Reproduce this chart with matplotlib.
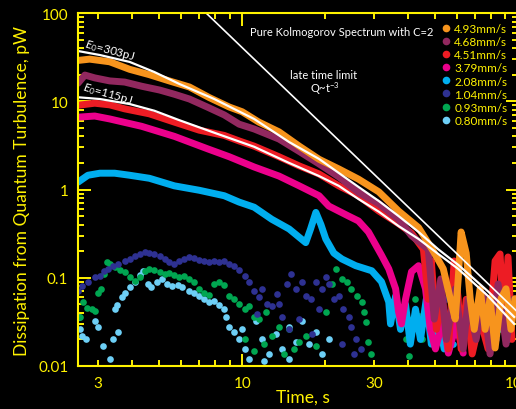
import matplotlib
matplotlib.use('Agg')
import matplotlib.pyplot as plt
from matplotlib.lines import Line2D
from matplotlib.ticker import FixedLocator, LogLocator, FuncFormatter, NullFormatter

plt.rcParams['font.family'] = ['Lato', 'DejaVu Sans']
plt.rcParams['mathtext.fontset'] = 'custom'
plt.rcParams['mathtext.rm'] = 'Lato'
plt.rcParams['mathtext.it'] = 'Lato:italic'

YELLOW = '#fff200'

# ---- data (time in s, dissipation in pW) ----
orange_t = [2.54, 2.80, 3.31, 3.91, 4.61, 5.44, 6.44, 7.60, 8.98, 10.0, 11.5, 13.6, 16.1, 19.0,
            22.4, 26.4, 31.3, 36.9, 43.6, 49.3, 53.6, 56.8, 59.2, 60.7, 62.2, 64.9, 67.1, 69.4,
            72.9, 76.0, 79.2, 82.6, 86.8, 90.5, 94.3, 97.5]
orange_q = [29, 30, 28, 23, 20, 17, 14.5, 11, 8.6, 7.6, 5.8, 4.5, 3.1, 2.2,
            1.71, 1.31, 0.94, 0.57, 0.37, 0.20, 0.126, 0.058, 0.034, 0.097, 0.33, 0.19, 0.058, 0.026,
            0.075, 0.026, 0.058, 0.016, 0.058, 0.075, 0.026, 0.058]

purple_t = [2.54, 2.69, 2.92, 3.31, 3.75, 4.32, 5.02, 5.68, 6.44, 7.47, 8.61, 9.75, 11.05, 13.6,
            16.1, 19.0, 22.4, 26.4, 31.3, 36.9, 41.1, 47.3, 49.7, 52.5, 55.0, 59.2, 63.3, 66.0,
            70.5, 74.7, 79.2, 84.7, 90.5, 95.9]
purple_q = [16, 19.8, 18.4, 17, 16.5, 14.8, 13.4, 12, 10.6, 8.6, 7.0, 5.5, 4.85, 3.73,
            2.7, 1.95, 1.39, 0.93, 0.69, 0.46, 0.30, 0.21, 0.034, 0.097, 0.02, 0.075, 0.0156, 0.057,
            0.02, 0.065, 0.0137, 0.085, 0.0177, 0.057]

red_t = [2.54, 2.92, 3.31, 3.75, 4.61, 5.68, 6.99, 8.61, 9.75, 11.05, 13.6, 16.1, 19.0, 22.4,
         26.4, 31.3, 36.9, 41.1, 45.4, 47.3, 48.5, 50.6, 53.2, 55.9, 58.7, 60.7, 62.2, 64.9,
         68.2, 72.9, 77.9, 82.6, 86.1, 89.0, 92.0, 95.1]
red_q = [9.0, 9.5, 9.1, 8.2, 7.2, 5.8, 4.7, 4.1, 3.55, 3.1, 2.35, 1.85, 1.5, 1.1,
         0.85, 0.57, 0.41, 0.32, 0.21, 0.057, 0.155, 0.026, 0.057, 0.0156, 0.155, 0.057, 0.0156, 0.057,
         0.0137, 0.034, 0.0156, 0.155, 0.186, 0.026, 0.172, 0.020]

pink_t = [2.54, 2.92, 3.31, 4.32, 5.68, 7.47, 8.98, 11.05, 13.6, 16.1, 19.0, 20.6, 24.3, 26.4,
          28.7, 32.0, 34.0, 36.0, 36.9, 37.8, 39.1, 41.1, 43.6, 46.2, 48.1, 50.2, 53.6, 55.9,
          59.7, 63.3]
pink_q = [6.6, 6.8, 6.3, 5.2, 4.0, 2.9, 2.35, 1.8, 1.42, 1.1, 0.85, 0.65, 0.5, 0.44,
          0.33, 0.18, 0.126, 0.075, 0.041, 0.03, 0.057, 0.117, 0.137, 0.075, 0.026, 0.0156, 0.034, 0.014,
          0.03, 0.014]

sky_t = [2.54, 2.76, 3.05, 3.45, 3.91, 4.61, 5.68, 6.99, 8.61, 9.75, 11.05, 12.8, 14.8, 17.0,
         17.7, 18.5, 19.3, 20.1, 21.5, 23.0, 25.8, 29.5, 32.0, 34.0, 34.5, 36.0, 37.5, 39.1,
         40.7, 42.5, 44.3, 46.5, 48.5, 51.4, 54.0]
sky_q = [1.21, 1.45, 1.53, 1.53, 1.45, 1.34, 1.1, 0.98, 0.85, 0.72, 0.63, 0.46, 0.357, 0.25,
         0.357, 0.55, 0.4, 0.275, 0.19, 0.163, 0.137, 0.12, 0.09, 0.053, 0.030, 0.062, 0.026, 0.05,
         0.0177, 0.044, 0.02, 0.057, 0.0177, 0.034, 0.0156]
sky_dots_t = [58.3, 63.3, 86.8, 92.0]
sky_dots_q = [0.0177, 0.026, 0.026, 0.02]

navy_t = [2.54, 2.62, 2.76, 2.92, 3.05, 3.15, 3.26, 3.39, 3.54, 3.75, 3.91, 4.08, 4.25, 4.43,
          4.61, 4.81, 5.02, 5.23, 5.44, 5.68, 5.92, 6.17, 6.44, 6.71, 6.99, 7.29, 7.60, 7.92,
          8.26, 8.61, 8.98, 9.36, 9.75, 10.2, 10.6, 11.05, 11.5, 11.8, 12.3, 12.8, 13.4, 13.9,
          14.5, 15.0, 15.7, 16.5, 17.0, 17.7, 18.5, 19.4, 20.1, 20.6, 21.5, 22.4, 23.3, 24.3,
          24.9, 25.8, 26.9, 25.4, 23.0, 11.3, 13.6, 16.1, 19.0, 14.8, 17.9,
          48.9, 55.0, 63.8, 83.3, 89.8]
navy_q = [0.070, 0.081, 0.090, 0.102, 0.105, 0.119, 0.126, 0.136, 0.143, 0.155, 0.163, 0.176, 0.186, 0.196,
          0.191, 0.186, 0.176, 0.163, 0.151, 0.143, 0.155, 0.163, 0.172, 0.168, 0.159, 0.155, 0.151, 0.155,
          0.151, 0.155, 0.143, 0.136, 0.122, 0.105, 0.090, 0.070, 0.060, 0.075, 0.050, 0.048, 0.065, 0.036,
          0.085, 0.110, 0.075, 0.090, 0.062, 0.057, 0.090, 0.075, 0.102, 0.085, 0.057, 0.062, 0.044, 0.036,
          0.0277, 0.020, 0.0156, 0.0137, 0.0177, 0.039, 0.050, 0.034, 0.044, 0.026, 0.023,
          0.026, 0.057, 0.034, 0.020, 0.044]

green_t = [2.58, 2.65, 2.73, 2.85, 2.92, 3.00, 3.07, 3.15, 3.23, 3.31, 3.45, 3.60, 3.75, 3.91,
           4.08, 4.25, 4.43, 4.61, 4.81, 5.02, 5.23, 5.44, 5.68, 5.92, 6.17, 6.44, 6.71, 6.99,
           7.29, 7.60, 7.92, 8.26, 8.61, 8.98, 9.36, 9.75, 10.2, 10.6, 11.05, 11.5, 12.2, 12.8,
           13.6, 14.8, 16.1, 17.0, 18.5, 20.1, 21.1, 21.8, 23.0, 23.9, 24.9, 26.0, 27.1, 27.6,
           28.0, 28.7, 29.2, 40.1, 41.4, 42.5, 43.6, 44.7, 39.4,
           10.2, 11.05, 12.0, 14.2, 15.4]
green_q = [0.036, 0.053, 0.046, 0.044, 0.042, 0.068, 0.075, 0.110, 0.151, 0.143, 0.132, 0.122, 0.116, 0.102,
           0.093, 0.102, 0.119, 0.126, 0.122, 0.116, 0.110, 0.113, 0.107, 0.102, 0.105, 0.097, 0.090, 0.075,
           0.067, 0.064, 0.085, 0.090, 0.083, 0.062, 0.057, 0.050, 0.044, 0.048, 0.036, 0.034, 0.041, 0.022,
           0.028, 0.026, 0.0187, 0.022, 0.0169, 0.041, 0.085, 0.126, 0.097, 0.090, 0.075, 0.062, 0.053, 0.041,
           0.0315, 0.0187, 0.0137, 0.013, 0.034, 0.057, 0.037, 0.020, 0.020,
           0.020, 0.0148, 0.0177, 0.0137, 0.0156]

cyan_t = [2.58, 2.62, 2.71, 2.56, 2.92, 3.00, 3.12, 3.31, 3.39, 3.54, 3.45, 3.51, 3.66, 3.75,
          3.91, 4.08, 4.25, 4.36, 4.54, 4.69, 4.93, 5.10, 5.36, 5.59, 5.83, 6.07, 6.44, 6.71,
          6.99, 7.29, 7.60, 7.92, 8.26, 8.61, 8.75, 8.98, 9.36, 9.75, 10.2, 10.6, 10.0, 11.2,
          11.8, 12.5, 13.3, 13.9, 14.8, 15.7, 16.5, 17.5, 18.5, 19.4, 20.6, 14.8, 12.0]
cyan_q = [0.026, 0.022, 0.020, 0.036, 0.032, 0.028, 0.0169, 0.012, 0.020, 0.0243, 0.044, 0.049, 0.060, 0.068,
          0.078, 0.090, 0.108, 0.119, 0.085, 0.078, 0.090, 0.097, 0.085, 0.081, 0.083, 0.078, 0.070, 0.067,
          0.062, 0.057, 0.053, 0.054, 0.049, 0.044, 0.036, 0.028, 0.0243, 0.020, 0.0156, 0.012, 0.026, 0.032,
          0.020, 0.0137, 0.023, 0.0156, 0.0277, 0.0187, 0.032, 0.0177, 0.0243, 0.0137, 0.020, 0.012, 0.0115]

# model curves (white)
e303_t = [2.54, 3.05, 3.91, 4.81, 5.92, 7.92, 11.05, 14.8, 19.0, 22.4, 26.4, 31.3, 36.9, 43.6,
          51.4, 60.7, 77.9, 96.8]
e303_q = [37.1, 33.4, 27.9, 21.4, 15.7, 10.6, 6.3, 3.45, 2.22, 1.54, 1.07, 0.74, 0.50, 0.33,
          0.21, 0.14, 0.070, 0.036]
e115_t = [2.54, 3.05, 3.91, 4.81, 5.92, 7.92, 11.05, 14.8, 19.0, 22.4, 26.4, 31.3, 36.9, 43.6,
          51.4, 60.7, 77.9, 96.8]
e115_q = [11.1, 10.6, 9.3, 7.8, 6.1, 4.4, 3.05, 2.0, 1.42, 1.1, 0.78, 0.56, 0.385, 0.275,
          0.186, 0.126, 0.062, 0.030]
late_t = [7.4, 100]
late_q = [100, 0.0405]

legend_labels = ['4.93mm/s', '4.68mm/s', '4.51mm/s', '3.79mm/s',
                 '2.08mm/s', '1.04mm/s', '0.93mm/s', '0.80mm/s']
legend_colors = ['#f7941d', '#92285f', '#ed1c24', '#ec008c',
                 '#00aeef', '#2e3192', '#00a651', '#6dcff6']

x_major = [10, 100]
x_labels = {3: '3', 10: '10', 30: '30', 100: '100'}
y_major = [0.01, 0.1, 1, 10, 100]
y_labels = ['0.01', '0.1', '1', '10', '100']

# ---- figure ----
fig = plt.figure(figsize=(5.16, 4.10), dpi=100, facecolor='black')
# right spine sits right at the picture's edge, as in the original
ax = fig.add_axes([78 / 516, 43 / 410, 440 / 516, 353 / 410])
ax.set_facecolor('black')
ax.set_xscale('log')
ax.set_yscale('log')

c_orange, c_purple, c_red, c_pink, c_sky, c_navy, c_green, c_cyan = legend_colors
band = dict(lw=5, solid_capstyle='round', solid_joinstyle='round')
dot = dict(ls='none', marker='o', ms=4.8, mew=0)

# lowest speeds first, so the fast ones sit on top
ax.plot(cyan_t, cyan_q, color=c_cyan, **dot)
ax.plot(green_t, green_q, color=c_green, **dot)
ax.plot(navy_t, navy_q, color=c_navy, **dot)
ax.plot(sky_t, sky_q, color=c_sky, **band)
ax.plot(sky_dots_t, sky_dots_q, color=c_sky, **dot)
ax.plot(pink_t, pink_q, color=c_pink, **band)
ax.plot(red_t, red_q, color=c_red, **band)
ax.plot(purple_t, purple_q, color=c_purple, **band)
ax.plot(orange_t, orange_q, color=c_orange, **band)

ax.plot(e303_t, e303_q, color='white', lw=1.6)
ax.plot(e115_t, e115_q, color='white', lw=1.6)
ax.plot(late_t, late_q, color='white', lw=1.2)

ax.set_xlim(2.54, 100)
ax.set_ylim(0.01, 100)

# ticks
ax.xaxis.set_major_locator(FixedLocator(x_major))
ax.xaxis.set_minor_locator(LogLocator(base=10, subs=range(2, 10)))
ax.xaxis.set_major_formatter(FuncFormatter(lambda v, p: x_labels.get(round(v), '')))
ax.xaxis.set_minor_formatter(FuncFormatter(lambda v, p: x_labels.get(round(v), '') if abs(v - round(v)) < 1e-6 else ''))
ax.yaxis.set_major_locator(FixedLocator(y_major))
ax.yaxis.set_major_formatter(FuncFormatter(lambda v, p: y_labels[y_major.index(v)] if v in y_major else ''))
ax.yaxis.set_minor_locator(LogLocator(base=10, subs=range(2, 10)))
ax.yaxis.set_minor_formatter(NullFormatter())

ax.tick_params(which='both', direction='in', color=YELLOW, width=1.4,
               top=True, right=True, labelcolor=YELLOW, labelsize=11, pad=7)
ax.tick_params(which='major', length=9)
ax.tick_params(which='minor', length=4.5)
for s in ax.spines.values():
    s.set_color(YELLOW)
    s.set_linewidth(1.5)

ax.set_xlabel('Time, s', color=YELLOW, fontsize=12.5)
ax.set_ylabel('Dissipation from Quantum Turbulence, pW', color=YELLOW, fontsize=12.5)
ax.xaxis.set_label_coords(0.511, -0.065)
ax.yaxis.set_label_coords(-0.109, 0.5)

# annotations
ax.text(0.391, 0.949, 'Pure Kolmogorov Spectrum with C=2', transform=ax.transAxes,
        color='white', fontsize=8, ha='left', va='center')
ax.text(0.557, 0.827, 'late time limit', transform=ax.transAxes,
        color='white', fontsize=8, ha='center', va='center')
ax.text(0.562, 0.788, r'Q~t$^{-3}$', transform=ax.transAxes,
        color='white', fontsize=8, ha='center', va='center')
ax.text(0.072, 0.895, r'$E_0$=303pJ', transform=ax.transAxes, color='white',
        fontsize=8.5, ha='center', va='center', rotation=-15)
ax.text(0.066, 0.773, r'$E_0$=115pJ', transform=ax.transAxes, color='white',
        fontsize=8.5, ha='center', va='center', rotation=-16)

handles = [Line2D([], [], ls='none', marker='o', ms=5.5, mew=0, color=c) for c in legend_colors]
leg = ax.legend(handles, legend_labels, loc='upper left', bbox_to_anchor=(442 / 516, 1 - 24 / 410),
                bbox_transform=fig.transFigure, frameon=False, fontsize=8.5, labelcolor=YELLOW,
                handlelength=0.6, handletextpad=0.45, labelspacing=0.18, borderpad=0, borderaxespad=0)

fig.savefig('out.png', dpi=100, facecolor='black')
plt.close(fig)
